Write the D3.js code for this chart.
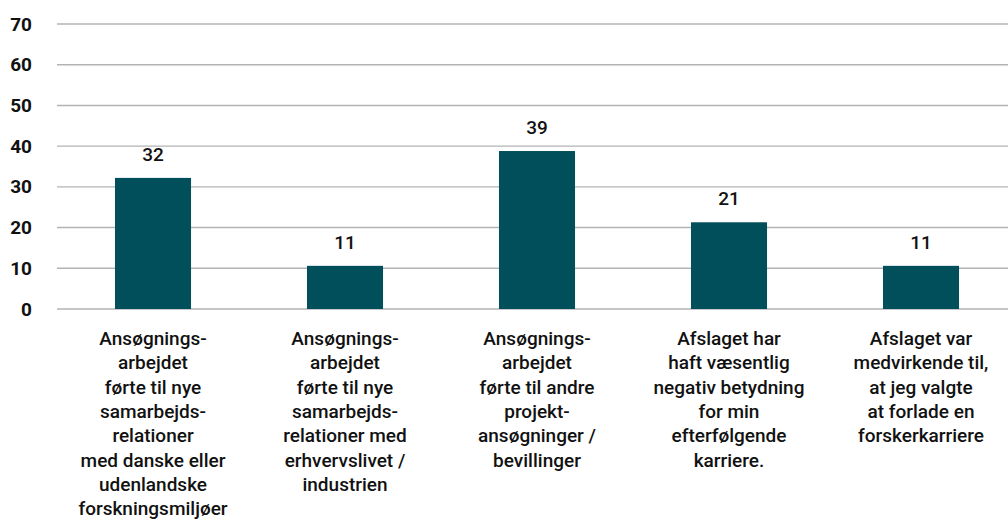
<!DOCTYPE html>
<meta charset=utf-8>
<style>
html, body { margin: 0; padding: 0; background: white }
svg { display: block; font-family: Roboto, "DejaVu Sans", sans-serif }
</style>
<script src="https://cdn.jsdelivr.net/npm/d3@7"></script>
<body>
<svg width=1008 height=524 id=chart></svg>
<script>
// data
const categories = [
	["Ansøgnings-", "arbejdet", "førte til nye", "samarbejds-", "relationer", "med danske eller", "udenlandske", "forskningsmiljøer"],
	["Ansøgnings-", "arbejdet", "førte til nye", "samarbejds-", "relationer med", "erhvervslivet /", "industrien"],
	["Ansøgnings-", "arbejdet", "førte til andre", "projekt-", "ansøgninger /", "bevillinger"],
	["Afslaget har", "haft væsentlig", "negativ betydning", "for min", "efterfølgende", "karriere."],
	["Afslaget var", "medvirkende til,", "at jeg valgte", "at forlade en", "forskerkarriere"]
];
const values = [32.2, 10.6, 38.8, 21.3, 10.6];
const valueLabels = ["32", "11", "39", "21", "11"];
const yTicks = [0, 10, 20, 30, 40, 50, 60, 70];

const svg = d3.select(chart);
const margin = {top: 24, right: -9, bottom: 215, left: 57};
const W = 1008, H = 524;

const x = d3.scaleBand()
	.domain(d3.range(values.length))
	.range([margin.left, W - margin.right])
	.paddingInner(0.604)
	.paddingOuter(0.302);

const y = d3.scaleLinear()
	.domain([0, 70])
	.range([H - margin.bottom, margin.top]);

// gridlines
svg.append("g")
	.attr("stroke", "#b3b3b3")
	.attr("stroke-width", 1.4)
	.selectAll("line")
	.data(yTicks)
	.join("line")
		.attr("x1", margin.left)
		.attr("x2", W)
		.attr("y1", d => y(d))
		.attr("y2", d => y(d));

// y axis labels
svg.append("g")
	.attr("transform", `translate(32,0)`)
	.call(d3.axisLeft(y).tickValues(yTicks).tickSize(0).tickPadding(0))
	.call(g => g.select(".domain").remove())
	.call(g => g.selectAll(".tick text")
		.attr("font-family", "Roboto, sans-serif")
		.attr("font-size", "19px")
		.attr("font-weight", 700)
		.attr("fill", "#111"));

// bars
svg.append("g")
	.attr("fill", "#004f5a")
	.selectAll("rect")
	.data(values)
	.join("rect")
		.attr("x", (d, i) => x(i))
		.attr("width", x.bandwidth())
		.attr("y", d => y(d))
		.attr("height", d => y(0) - y(d));

// value labels
svg.append("g")
	.attr("text-anchor", "middle")
	.attr("font-size", "19px")
	.attr("font-weight", 500)
	.attr("fill", "#111")
	.selectAll("text")
	.data(values)
	.join("text")
		.attr("x", (d, i) => x(i) + x.bandwidth() / 2)
		.attr("y", d => y(d) - 17)
		.text((d, i) => valueLabels[i]);

// category labels
svg.append("g")
	.attr("text-anchor", "middle")
	.attr("font-size", "19px")
	.attr("font-weight", 500)
	.attr("fill", "#111")
	.selectAll("text")
	.data(categories)
	.join("text")
		.attr("x", (d, i) => x(i) + x.bandwidth() / 2)
		.attr("y", 345)
		.selectAll("tspan")
		.data((d, i) => d.map(t => [t, i]))
		.join("tspan")
			.attr("x", d => x(d[1]) + x.bandwidth() / 2)
			.attr("dy", (d, j) => j ? 24.3 : 0)
			.text(d => d[0]);
</script>
</body>
